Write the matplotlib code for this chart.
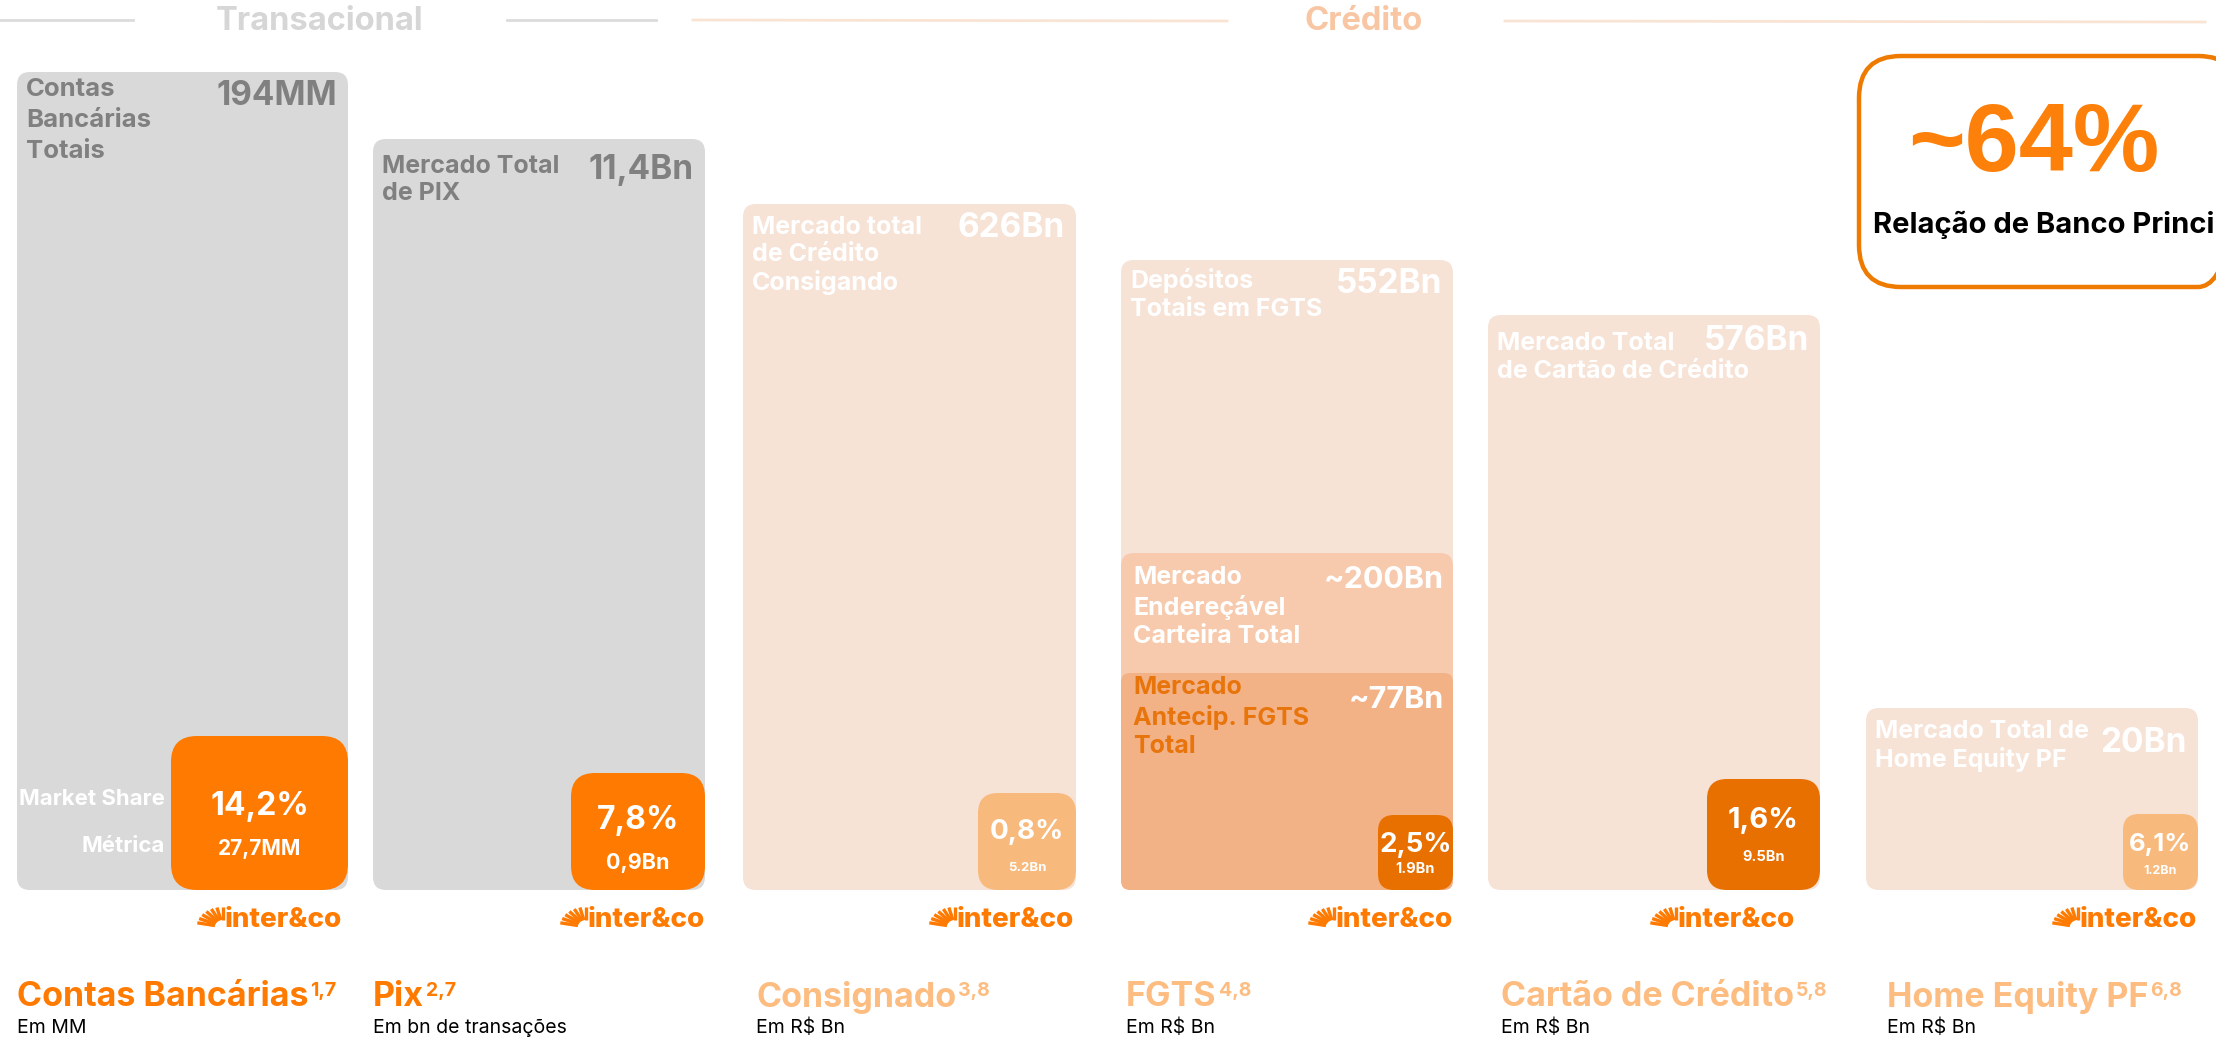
import matplotlib
matplotlib.use("Agg")
import matplotlib.pyplot as plt
from matplotlib.patches import FancyBboxPatch
import numpy as np

plt.rcParams["font.family"] = ["Inter", "DejaVu Sans"]

# ---- data ----
segments = ["Contas Bancárias", "Pix", "Consignado", "FGTS",
            "Cartão de Crédito", "Home Equity PF"]
footnotes = ["1,7", "2,7", "3,8", "4,8", "5,8", "6,8"]
units = ["Em MM", "Em bn de transações", "Em R$ Bn", "Em R$ Bn",
         "Em R$ Bn", "Em R$ Bn"]
market_labels = ["Contas\nBancárias\nTotais", "Mercado Total\nde PIX",
                 "Mercado total\nde Crédito\nConsigando",
                 "Depósitos\nTotais em FGTS",
                 "Mercado Total\nde Cartão de Crédito",
                 "Mercado Total de\nHome Equity PF"]
market_values = ["194MM", "11,4Bn", "626Bn", "552Bn", "576Bn", "20Bn"]
share_pct = ["14,2%", "7,8%", "0,8%", "2,5%", "1,6%", "6,1%"]
share_metric = ["27,7MM", "0,9Bn", "5.2Bn", "1.9Bn", "9.5Bn", "1.2Bn"]
fgts_sub_labels = ["Mercado\nEndereçável\nCarteira Total",
                   "Mercado\nAntecip. FGTS\nTotal"]
fgts_sub_values = ["~200Bn", "~77Bn"]
row_labels = ["Market Share", "Métrica"]
groups = ["Transacional", "Crédito"]
primary_value = "~64%"
primary_label = "Relação de Banco Principal"

# ---- layout (pixels) ----
W, H = 2216, 1041
panel_left = [17, 373, 743, 1121, 1488, 1866]
panel_right = [348, 705, 1076, 1453, 1820, 2198]
panel_top = [72, 139, 204, 260, 315, 708]
panel_bottom = 890
label_size = [18.5, 18, 18, 18, 18, 18]
label_dy = [6, 16, 12, 8, 17, 12]
label_spacing = [1.45, 1.22, 1.22, 1.28, 1.25, 1.22]
value_dy = [8, 15, 8, 8, 10, 19]
box_left = [171, 571, 978, 1378, 1707, 2123]
box_top = [736, 773, 793, 815, 779, 814]
box_radius = [26, 24, 20, 16, 20, 16]
pct_size = [23, 23, 20, 20, 21, 18.5]
metric_size = [15, 15.5, 9.5, 10.5, 10.5, 9]
pct_y = [806, 820, 832, 845, 820, 845]
metric_y = [849, 863, 868, 869, 857, 871]
logo_right = [342, 705, 1074, 1453, 1795, 2197]
title_x = [17, 373, 756, 1126, 1501, 1887]

panel_colors = ["#D9D9D9", "#D9D9D9", "#F7E2D6", "#F7E2D6", "#F7E2D6", "#F7E2D6"]
label_colors = ["#808080", "#808080", "white", "white", "white", "white"]
box_colors = ["#FF7A00", "#FF7A00", "#F8BA7C", "#E87000", "#E87000", "#F8BA7C"]
title_colors = ["#FF7A00", "#FF7A00", "#FDBC80", "#FDBC80", "#FDBC80", "#FDBC80"]
fgts_sub_top = [553, 673]
fgts_sub_colors = ["#F7CAAD", "#F3B186"]
fgts_label_colors = ["white", "#E8740C"]

fig = plt.figure(figsize=(W / 100, H / 100), dpi=100)
ax = fig.add_axes([0, 0, 1, 1])
ax.set_xlim(0, W)
ax.set_ylim(H, 0)
ax.axis("off")


def rbox(x0, y0, x1, y1, r, color, z=1, **kw):
    p = FancyBboxPatch((x0, y0), x1 - x0, y1 - y0,
                       boxstyle=f"round,pad=0,rounding_size={r}",
                       fc=color, ec="none", zorder=z, **kw)
    ax.add_patch(p)
    return p


# header
ax.plot([0, 133], [20, 20], color="#DCDCDC", lw=2, zorder=1)
ax.plot([507, 656], [20, 20], color="#DCDCDC", lw=2, zorder=1)
ax.plot([693, 1227], [20, 21], color="#F9E3D3", lw=2, zorder=1)
ax.plot([1505, 2205], [21, 22], color="#F9E3D3", lw=2, zorder=1)
ax.text(320, 21, groups[0], ha="center", va="center", fontsize=23.5,
        fontweight="bold", color="#D6D6D6")
ax.text(1364, 21, groups[1], ha="center", va="center", fontsize=23.5,
        fontweight="bold", color="#F9C6A3")

# panels
for i in range(6):
    l, r, t = panel_left[i], panel_right[i], panel_top[i]
    rbox(l, t, r, panel_bottom, 13, panel_colors[i], z=1)
    ax.text(l + 9, t + label_dy[i], market_labels[i], ha="left", va="top",
            fontsize=label_size[i], fontweight="bold", color=label_colors[i],
            linespacing=label_spacing[i], zorder=5)
    ax.text(r - 11, t + value_dy[i], market_values[i], ha="right", va="top",
            fontsize=24, fontweight="bold", color=label_colors[i], zorder=6)

# FGTS sub markets
for k in range(2):
    l, r = panel_left[3], panel_right[3]
    t = fgts_sub_top[k]
    rbox(l, t, r, panel_bottom, 13 if k == 0 else 9, fgts_sub_colors[k], z=2 + k)
    ax.text(l + 12, t + 13 if k == 0 else t + 3, fgts_sub_labels[k],
            ha="left", va="top", fontsize=18, fontweight="bold",
            color=fgts_label_colors[k], linespacing=1.3, zorder=6)
    ax.text(r - 9, t + 13, fgts_sub_values[k], ha="right", va="top",
            fontsize=22, fontweight="bold", color="white", zorder=6)

# inter&co share boxes
for i in range(6):
    x0, x1 = box_left[i], panel_right[i]
    rbox(x0, box_top[i], x1, panel_bottom, box_radius[i], box_colors[i], z=4)
    cx = (x0 + x1) / 2
    ax.text(cx, pct_y[i], share_pct[i], ha="center", va="center",
            fontsize=pct_size[i], fontweight="bold", color="white", zorder=7)
    ax.text(cx, metric_y[i], share_metric[i], ha="center", va="center",
            fontsize=metric_size[i], fontweight="bold", color="white", zorder=7)

ax.text(165, 799, row_labels[0], ha="right", va="center", fontsize=16,
        fontweight="bold", color="white", zorder=7)
ax.text(165, 846, row_labels[1], ha="right", va="center", fontsize=16,
        fontweight="bold", color="white", zorder=7)

# primary bank box (runs off the right edge, as in the slide)
rbox(1859, 56, 2240, 287, 42, "white", z=2)
frame = FancyBboxPatch((1859, 56), 381, 231,
                       boxstyle="round,pad=0,rounding_size=42",
                       fc="none", ec="#EE7A00", lw=3.2, zorder=3)
ax.add_patch(frame)
ax.text(1908, 146, primary_value, ha="left", va="center", fontsize=70,
        fontweight="bold", color="#FC800A", zorder=5,
        family=["Liberation Sans", "DejaVu Sans"])
ax.text(1873, 225, primary_label, ha="left", va="center", fontsize=21,
        fontweight="bold", color="black", zorder=5)


# logos
def draw_logo(xr, cy):
    t = ax.text(xr, cy, "inter&co", ha="right", va="center", fontsize=20,
                fontweight="heavy", color="#FF7A00", zorder=5)
    return t


logos = [draw_logo(logo_right[i], 920) for i in range(6)]

# titles
titles = []
for i in range(6):
    t = ax.text(title_x[i], 997, segments[i], ha="left", va="center",
                fontsize=24.5, fontweight="bold", color=title_colors[i])
    titles.append(t)
    ax.text(title_x[i], 1028, units[i], ha="left", va="center",
            fontsize=14, color="black")

fig.canvas.draw()
renderer = fig.canvas.get_renderer()
inv = ax.transData.inverted()
for i, t in enumerate(titles):
    bb = t.get_window_extent(renderer)
    xd, yd = inv.transform((bb.x1, bb.y1))
    ax.text(xd + 2, yd + 1, footnotes[i], ha="left", va="top", fontsize=14,
            fontweight="bold", color=title_colors[i])

for t in logos:
    bb = t.get_window_extent(renderer)
    xd0, yd0 = inv.transform((bb.x0, bb.y0))
    px, py = xd0 - 2, yd0 - 6
    for ang in np.linspace(12, 90, 7):
        a = np.radians(ang)
        ax.plot([px - 8 * np.cos(a), px - 26 * np.cos(a)],
                [py - 7 * np.sin(a), py - 20 * np.sin(a)],
                color="#FF7A00", lw=2.4, solid_capstyle="butt", zorder=5)

fig.savefig("out.png", dpi=100)
